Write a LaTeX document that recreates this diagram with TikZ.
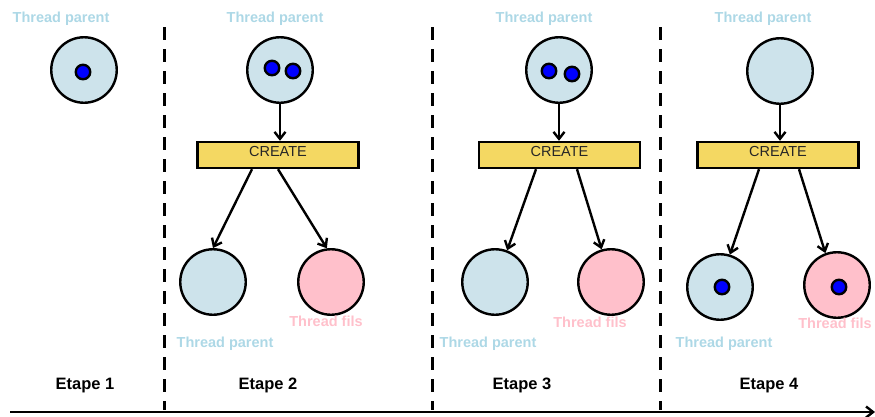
\documentclass[tikz,border=0pt]{standalone}
\usepackage{fontspec}
\setmainfont{Liberation Sans}
\usetikzlibrary{arrows.meta}
\definecolor{bleuclair}{HTML}{CDE3EB}
\definecolor{bleutxt}{HTML}{ADD8E6}
\definecolor{rose}{HTML}{FFC0CB}
\definecolor{jaune}{HTML}{F4D862}
\begin{document}
\begin{tikzpicture}[x=1pt,y=-1pt,line width=2.4pt,
  thread/.style={circle,draw,minimum size=65.5pt,inner sep=0pt},
  parent/.style={thread,fill=bleuclair},fils/.style={thread,fill=rose},
  point/.style={circle,draw,fill=blue,minimum size=14.5pt,inner sep=0pt},
  create/.style={draw,fill=jaune,minimum width=161pt,text height=12.5pt,text depth=10.5pt,inner xsep=0pt,inner ysep=1.5pt,text=black!85,font=\fontsize{14.5}{16}\selectfont},
  lbl/.style={anchor=base,font=\bfseries\fontsize{14.5}{16}\selectfont},
  etape/.style={anchor=base,font=\bfseries\fontsize{16.5}{18}\selectfont},
  fleche/.style={-{Straight Barb[length=7pt,width=11pt]}}]
\useasboundingbox (0,0) rectangle (875,416);
\foreach \x in {164,432,660} \draw[line width=3pt,dash pattern=on 13pt off 9pt] (\x,27)--(\x,410);
\coordinate (o) at (10,412);\coordinate (fin) at (875,412);
\draw[line width=2.4pt,fleche] (o)--(fin);
% etape 1
\node[lbl,text=bleutxt] (t1) at (61,22) {Thread parent};
\node[parent] (p1) at (84,70) {};\node[point] (d1) at (83,72) {};
\node[etape] (e1) at (85,389) {Etape 1};
% etape 2
\node[lbl,text=bleutxt] (t2) at (275,22) {Thread parent};
\node[parent] (p2) at (280,70) {};\node[point] (d2a) at (272,68) {};\node[point] (d2b) at (293,71) {};
\node[create] (c2) at (278,155) {CREATE};
\node[parent] (g2) at (213,282) {};\node[fils] (f2) at (331,282) {};
\draw[fleche] (p2.south)--(p2.south|-c2.north);
\draw[fleche] ([xshift=-26pt]c2.south)--(g2.90);\draw[fleche] (c2.south)--(f2.97);
\node[lbl,text=rose] (tf2) at (326,326) {Thread fils};
\node[lbl,text=bleutxt] (tp2) at (225,347) {Thread parent};
\node[etape] (e2) at (268,389) {Etape 2};
% etape 3
\node[lbl,text=bleutxt] (t3) at (544,22) {Thread parent};
\node[parent] (p3) at (559,70) {};\node[point] (d3a) at (549,71) {};\node[point] (d3b) at (572,74) {};
\node[create] (c3) at (559.5,155) {CREATE};
\node[parent] (g3) at (495,282) {};\node[fils] (f3) at (611,282) {};
\draw[fleche] (p3.south)--(p3.south|-c3.north);
\draw[fleche] ([xshift=-23.5pt]c3.south)--(g3.69);\draw[fleche] ([xshift=17.5pt]c3.south)--(f3.106);
\node[lbl,text=rose] (tf3) at (590,327) {Thread fils};
\node[lbl,text=bleutxt] (tp3) at (488,347) {Thread parent};
\node[etape] (e3) at (522,389) {Etape 3};
% etape 4
\node[lbl,text=bleutxt] (t4) at (763,22) {Thread parent};
\node[parent] (p4) at (780,71) {};
\node[create] (c4) at (778,155) {CREATE};
\node[parent] (g4) at (720,287) {};\node[fils] (f4) at (837,285) {};
\node[point] (d4a) at (722,287) {};\node[point] (d4b) at (839,287) {};
\draw[fleche] (p4.south)--(p4.south|-c4.north);
\draw[fleche] ([xshift=-19pt]c4.south)--(g4.73);\draw[fleche] ([xshift=21pt]c4.south)--(f4.110);
\node[lbl,text=rose] (tf4) at (835,328) {Thread fils};
\node[lbl,text=bleutxt] (tp4) at (724,347) {Thread parent};
\node[etape] (e4) at (769,389) {Etape 4};
\end{tikzpicture}
\end{document}
